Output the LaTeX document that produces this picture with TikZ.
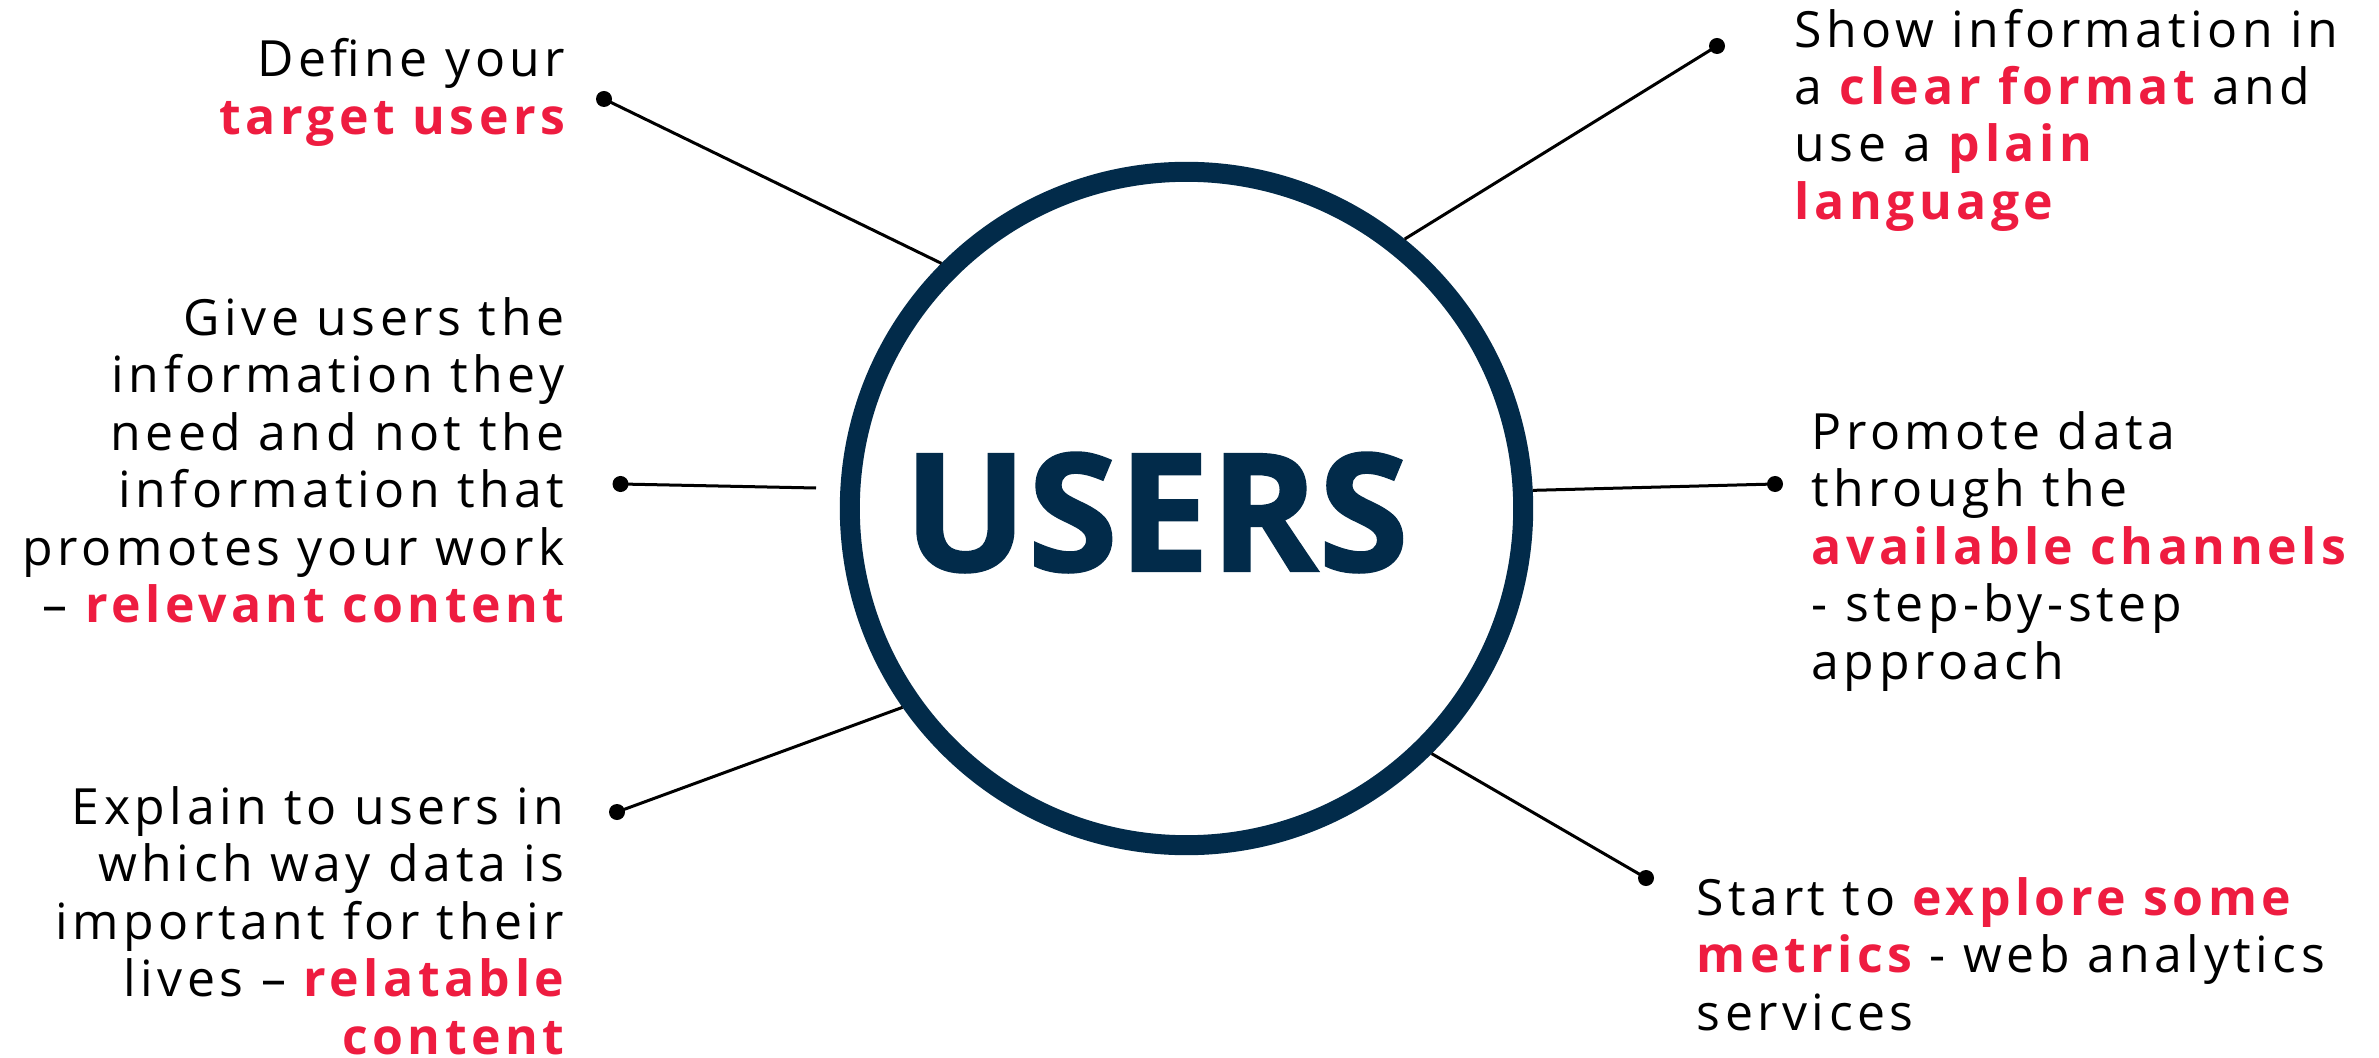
\documentclass[tikz,border=0pt]{standalone}
\usepackage{fontspec}
\setmainfont{Open Sans}
\newfontfamily\bodyfont[LetterSpace=9]{Open Sans}
\newfontfamily\titlefont[BoldFeatures={FakeBold=1.2}]{Open Sans}
\definecolor{navy}{HTML}{022B4A}
\definecolor{accent}{HTML}{EE1C40}
\newcommand{\hl}[1]{{\bfseries\color{accent}#1}}
\begin{document}
\begin{tikzpicture}[x=0.01cm,y=-0.01cm,
  txt/.style={inner sep=0, text=black, font=\bodyfont\fontsize{14.2pt}{16.35pt}\selectfont},
  dotnode/.style={circle, fill=black, inner sep=0, minimum size=0.16cm},
  link/.style={line width=0.03cm, draw=black},
  ring/.style={circle, draw=navy, line width=0.2cm, minimum size=6.73cm, inner sep=0}]
\useasboundingbox (0,0) rectangle (2379,1058);

\node[ring] (hub) at (1186.5,508.5) {};
\node[inner sep=0, text=navy, font=\titlefont\bfseries\fontsize{46.7pt}{50pt}\selectfont] (title) at (1156,512.5) {USERS};

% base anchor = baseline of the last line
\node[txt, align=right, anchor=base east] (t1) at (566,134.5) {Define your\\\hl{target users}};
\node[txt, align=left, anchor=base west] (t2) at (1794,219.5) {Show information in\\a \hl{clear format} and\\use a \hl{plain}\\\hl{language}};
\node[txt, align=right, anchor=base east] (t3) at (565,622.5) {Give users the\\information they\\need and not the\\information that\\promotes your work\\– \hl{relevant content}};
\node[txt, align=left, anchor=base west] (t4) at (1811,679) {Promote data\\through the\\\hl{available channels}\\- step-by-step\\approach};
\node[txt, align=right, anchor=base east] (t5) at (565,1054) {Explain to users in\\which way data is\\important for their\\lives – \hl{relatable}\\\hl{content}};
\node[txt, align=left, anchor=base west] (t6) at (1696,1030) {Start to \hl{explore some}\\\hl{metrics} - web analytics\\services};

\node[dotnode] (d1) at (604,99) {};
\node[dotnode] (d2) at (620.5,484) {};
\node[dotnode] (d3) at (617,812) {};
\node[dotnode] (d4) at (1717,46) {};
\node[dotnode] (d5) at (1775,484) {};
\node[dotnode] (d6) at (1646,878) {};
\coordinate (e2) at (816,488);

\draw[link] (d1.center) -- (hub.135.6);
\draw[link] (d2.center) -- (e2);
\draw[link] (d3.center) -- (hub.215.1);
\draw[link] (d4.center) -- (hub.51.5);
\draw[link] (d5.center) -- (hub.3.4);
\draw[link] (d6.center) -- (hub.-45.8);
\end{tikzpicture}
\end{document}
